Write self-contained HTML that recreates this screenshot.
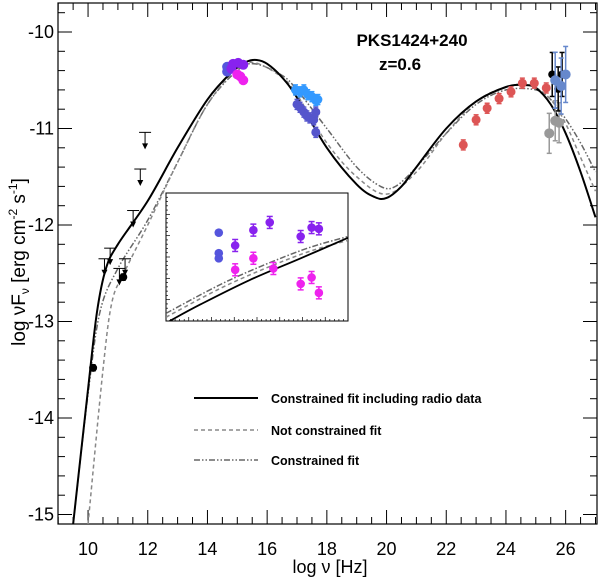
<!DOCTYPE html>
<html><head><meta charset="utf-8"><style>
html,body{margin:0;padding:0;background:#fff;}
svg{display:block;font-family:"Liberation Sans",sans-serif;}
</style></head><body>
<svg id="c" width="600" height="577" xmlns="http://www.w3.org/2000/svg"></svg>
<script>
const xTicks=[10,12,14,16,18,20,22,24,26];
const yTicks=[-10,-11,-12,-13,-14,-15];
const solidFit=[[9.5,-15.1],[10,-13.7],[10.3,-12.9],[10.6,-12.45],[11,-12.2],[12,-11.75],[13,-11.2],[14,-10.7],[14.8,-10.42],[15.3,-10.31],[15.65,-10.29],[16,-10.33],[16.5,-10.47],[17,-10.68],[18,-11.2],[19,-11.58],[19.6,-11.71],[20,-11.72],[20.5,-11.6],[21,-11.4],[22,-11.0],[23,-10.72],[24,-10.57],[24.6,-10.55],[25,-10.58],[25.5,-10.75],[26,-11.05],[26.5,-11.45],[27,-11.92]];
const dashedFit=[[10.0,-15.1],[10.5,-13.5],[10.8,-12.8],[11.2,-12.5],[12,-12.0],[13,-11.35],[14,-10.75],[15,-10.38],[15.6,-10.32],[16.5,-10.47],[17,-10.65],[18,-11.15],[19,-11.5],[20,-11.68],[21,-11.45],[22,-11.05],[23,-10.72],[24,-10.57],[24.8,-10.55],[25.5,-10.7],[26,-10.95],[26.5,-11.3],[27,-11.65]];
const dashDotFit=[[9.5,-15.1],[10,-13.75],[10.4,-12.9],[11,-12.45],[12,-11.95],[13,-11.35],[14,-10.75],[15,-10.4],[15.6,-10.33],[16.5,-10.45],[17,-10.6],[18,-11.0],[19,-11.4],[19.8,-11.6],[20.3,-11.6],[21,-11.4],[22,-11.05],[23,-10.75],[24,-10.6],[25,-10.6],[25.5,-10.7],[26,-10.9],[26.5,-11.15],[27,-11.45]];
const optBlue=[[14.66,-10.36],[14.66,-10.41]];
const optPurple=[[14.86,-10.33],[15.03,-10.32],[15.2,-10.34],[14.8,-10.38]];
const optMagenta=[[15.1,-10.46],[15.2,-10.5],[15.0,-10.44]];
const xrayLight=[[16.95,-10.6],[17.1,-10.62],[17.23,-10.6],[17.36,-10.65],[17.5,-10.67],[17.63,-10.71],[17.7,-10.7]];
const xraySlate=[[17.0,-10.75],[17.1,-10.78],[17.23,-10.83],[17.33,-10.87],[17.43,-10.89],[17.56,-10.91],[17.63,-10.83],[17.63,-11.04]];
const fermi=[[22.57,-11.17],[23.0,-10.91],[23.37,-10.79],[23.77,-10.69],[24.17,-10.62],[24.55,-10.53],[24.95,-10.53],[25.35,-10.58]];
const vheBlack=[[25.55,-10.44],[25.75,-10.59],[25.88,-10.44]];
const vheSteel=[[25.65,-10.5],[25.85,-10.56],[26.0,-10.44]];
const vheGrey=[[25.45,-11.05],[25.65,-10.92],[25.78,-10.94]];
const radio=[[10.17,-13.48],[11.18,-12.54]];
const upperLimits=[[11.91,-11.04],[11.75,-11.42],[11.51,-11.85],[10.74,-12.24],[11.24,-12.35],[10.55,-12.35],[11.05,-12.45]];
const insetBlue=[[0.29,0.31],[0.29,0.47],[0.29,0.51]];
const insetPurple=[[0.38,0.41],[0.48,0.29],[0.57,0.23],[0.74,0.34],[0.80,0.27],[0.84,0.28]];
const insetMagenta=[[0.38,0.60],[0.48,0.51],[0.59,0.59],[0.74,0.71],[0.80,0.66],[0.84,0.78]];
const insetSolid=[[0.02,1.0],[0.19,0.87],[0.46,0.68],[0.74,0.51],[1.0,0.35]];
const insetDash=[[0.0,0.94],[0.35,0.68],[0.74,0.45],[1.0,0.34]];

const S=document.getElementById('c');const NS='http://www.w3.org/2000/svg';
const L=58,R=597,T=3,B=524;
const X=v=>58.2+(v-9)*29.85, Y=v=>32+(-10-v)*96.5;
function el(t,a,p){const e=document.createElementNS(NS,t);for(const k in a)e.setAttribute(k,a[k]);(p||S).appendChild(e);return e;}
const defs=el('defs',{});const cp=el('clipPath',{id:'pc'},defs);el('rect',{x:L,y:T,width:R-L,height:B-T},cp);
const frame=el('rect',{x:L,y:T,width:R-L,height:B-T,fill:'none',stroke:'#000','stroke-width':1.2});

for(let v=9;v<=27.001;v+=0.5){const big=Math.abs(v-Math.round(v/2)*2)<1e-6;const len=big?14:7;const px=X(v);
el('line',{x1:px,y1:B,x2:px,y2:B-len,stroke:'#000','stroke-width':1});el('line',{x1:px,y1:T,x2:px,y2:T+len,stroke:'#000','stroke-width':1});}
xTicks.forEach(v=>{const t=el('text',{x:X(v),y:555,'font-size':18,'text-anchor':'middle'});t.textContent=v;
});
for(let v=-9.8;v>=-15.1;v-=0.2){const vv=Math.round(v*10)/10;const big=Math.abs(vv-Math.round(vv))<1e-6;const len=big?14:7;const py=Y(vv);
if(py<T||py>B)continue;el('line',{x1:L,y1:py,x2:L+len,y2:py,stroke:'#000'});el('line',{x1:R,y1:py,x2:R-len,y2:py,stroke:'#000'});}
yTicks.forEach(v=>{const t=el('text',{x:54,y:Y(v)+6,'font-size':18,'text-anchor':'end'});t.textContent=v;
});
const xl=el('text',{x:330,y:573,'font-size':18,'text-anchor':'middle'});xl.textContent='log ν [Hz]';

const yl=el('text',{transform:'translate(25,262) rotate(-90)','font-size':19,'text-anchor':'middle'});
yl.innerHTML='log νF<tspan font-size="12" dy="4">ν</tspan><tspan dy="-4">  [erg cm</tspan><tspan font-size="12" dy="-8">-2</tspan><tspan dy="8"> s</tspan><tspan font-size="12" dy="-8">-1</tspan><tspan dy="8">]</tspan>';

const g=el('g',{'clip-path':'url(#pc)'});
function smooth(P){let d='M'+P[0][0]+','+P[0][1];for(let i=0;i<P.length-1;i++){const p0=P[Math.max(0,i-1)],p1=P[i],p2=P[i+1],p3=P[Math.min(P.length-1,i+2)];
d+=' C'+(p1[0]+(p2[0]-p0[0])/6)+','+(p1[1]+(p2[1]-p0[1])/6)+' '+(p2[0]-(p3[0]-p1[0])/6)+','+(p2[1]-(p3[1]-p1[1])/6)+' '+p2[0]+','+p2[1];}return d;}
function line(d,st,dash,w,name,par,fx,fy){const p=el('path',{d:smooth(d.map(q=>[fx(q[0]),fy(q[1])])),fill:'none',stroke:st,'stroke-width':w,'stroke-dasharray':dash||'none'},par);
}
line(dashDotFit,'#666','6,2,1.5,2,1.5,2',1.5,'constrained-fit-line',g,X,Y);
line(dashedFit,'#888','4,3',1.5,'not-constrained-fit-line',g,X,Y);
line(solidFit,'#000','',2,'constrained-radio-fit-line',g,X,Y);
function pts(d,c,name,err,r){d.forEach(q=>{const cx=X(q[0]),cy=Y(q[1]);
if(err){el('line',{x1:cx,y1:cy-err,x2:cx,y2:cy+err,stroke:c,'stroke-width':1.5},g);el('line',{x1:cx-2.5,y1:cy-err,x2:cx+2.5,y2:cy-err,stroke:c,'stroke-width':1.5},g);el('line',{x1:cx-2.5,y1:cy+err,x2:cx+2.5,y2:cy+err,stroke:c,'stroke-width':1.5},g);}
const e=el('circle',{cx:cx,cy:cy,r:r||4.5,fill:c},g);});}
pts(optBlue,'#5555dd','optical-point-blue',0,5);pts(optPurple,'#8822ee','optical-point-purple',0,5);pts(optMagenta,'#ee22ee','optical-point-magenta',0,5);
pts(xrayLight,'#3399ff','xray-point-light',5,4.5);pts(xraySlate,'#5555cc','xray-point-slate',5,4.5);
pts(fermi,'#dd5555','fermi-point',5,4.5);
pts(vheGrey,'#999','vhe-point-grey',20,5);pts(vheBlack,'#000','vhe-point-black',22,4);pts(vheSteel,'#6688cc','vhe-point-steel',28,5);
pts(radio,'#000','radio-point',3,4);
upperLimits.forEach(q=>{const cx=X(q[0]),cy=Y(q[1]);el('line',{x1:cx-6,y1:cy,x2:cx+6,y2:cy,stroke:'#000'},g);el('line',{x1:cx,y1:cy,x2:cx,y2:cy+14,stroke:'#000'},g);
const a=el('polygon',{points:(cx-3)+','+(cy+11)+' '+(cx+3)+','+(cy+11)+' '+cx+','+(cy+17),fill:'#000'},g);});
const IL=166,IT=193,IW=182,IH=128;const IX=v=>IL+v*IW,IY=v=>IT+v*IH;
const ig=el('g',{});
el('rect',{x:IL,y:IT,width:IW,height:IH,fill:'#fff',stroke:'#000','stroke-width':1},ig);
const icp=el('clipPath',{id:'ic'},defs);el('rect',{x:IL,y:IT,width:IW,height:IH},icp);
for(let i=1;i<40;i++){const px=IL+i*IW/40;el('line',{x1:px,y1:IT+IH,x2:px,y2:IT+IH-(i%5?2:4),stroke:'#000','stroke-width':0.7},ig);}
for(let i=1;i<30;i++){const py=IT+i*IH/30;el('line',{x1:IL,y1:py,x2:IL+(i%5?2:4),y2:py,stroke:'#000','stroke-width':0.7},ig);}
const icg=el('g',{'clip-path':'url(#ic)'},ig);
line(insetDash,'#666','6,2,1.5,2',1.5,'inset-constrained-fit',icg,IX,IY);
line(insetDash.map(q=>[q[0],q[1]+0.03]),'#888','4,3',1.5,'inset-not-constrained-fit',icg,IX,IY);
line(insetSolid,'#000','',1.8,'inset-radio-fit',icg,IX,IY);
function ipts(d,c,name,e){d.forEach(q=>{const cx=IX(q[0]),cy=IY(q[1]);if(e){el('line',{x1:cx,y1:cy-6,x2:cx,y2:cy+6,stroke:c,'stroke-width':1.5},ig);el('line',{x1:cx-3,y1:cy-6,x2:cx+3,y2:cy-6,stroke:c,'stroke-width':1.5},ig);el('line',{x1:cx-3,y1:cy+6,x2:cx+3,y2:cy+6,stroke:c,'stroke-width':1.5},ig);}
const k=el('circle',{cx:cx,cy:cy,r:4.3,fill:c},ig);});}
ipts(insetBlue,'#5555dd','inset-point-blue',0);ipts(insetPurple,'#8822ee','inset-point-purple',1);ipts(insetMagenta,'#ee22ee','inset-point-magenta',1);
const t1=el('text',{x:412,y:46,'font-size':17,'font-weight':'bold','text-anchor':'middle'});t1.textContent='PKS1424+240';
const t2=el('text',{x:400,y:70,'font-size':17,'font-weight':'bold','text-anchor':'middle'});t2.textContent='z=0.6';
const leg=[['Constrained fit including radio data','#000','',2,398],['Not constrained fit','#888','4,3',1.5,430],['Constrained fit','#666','6,2,1.5,2,1.5,2',1.5,460]];
leg.forEach(l=>{const ln=el('line',{x1:194,y1:l[4],x2:258,y2:l[4],stroke:l[1],'stroke-width':l[3],'stroke-dasharray':l[2]||'none'});

const tx=el('text',{x:271,y:l[4]+5,'font-size':12.5,'font-weight':'bold'});tx.textContent=l[0];});
</script>
</body></html>
